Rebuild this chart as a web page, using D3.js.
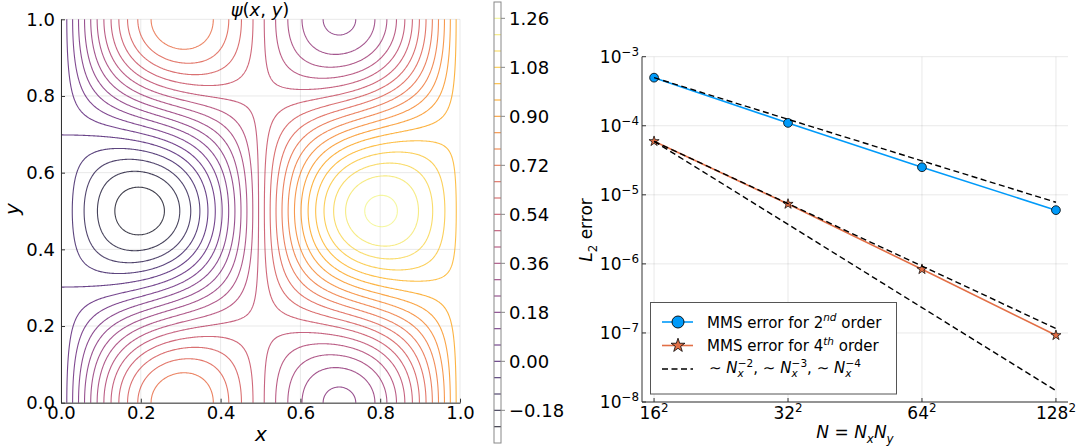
<!DOCTYPE html>
<html>
<head>
<meta charset="utf-8">
<script src="https://cdn.jsdelivr.net/npm/d3@7"></script>
<style>
  body { margin: 0; background: #fff; }
  svg text { font-family: "DejaVu Sans", sans-serif; fill: #000; }
</style>
</head>
<body>
<svg id="chart" width="1083" height="448"></svg>
<script>
// ---- left panel: psi(x,y) = x + A sin(2 pi x) cos(2 pi y)
const psiAmp = 0.5
const psiLevels = [-0.24, -0.18, -0.12, -0.06, 0.00, 0.06, 0.12, 0.18, 0.24, 0.30, 0.36, 0.42,
    0.48, 0.54, 0.60, 0.66, 0.72, 0.78, 0.84, 0.90, 0.96, 1.02, 1.08, 1.14, 1.20, 1.26]
const psiTicks = [-0.18, 0.00, 0.18, 0.36, 0.54, 0.72, 0.90, 1.08, 1.26]
const psiLimits = [-0.30, 1.32]
const unitTicks = [0.0, 0.2, 0.4, 0.6, 0.8, 1.0]

// ---- right panel: convergence
const gridNx = [16, 32, 64, 128]
const err2nd = [4.97e-4, 1.10e-4, 2.51e-5, 6.0e-6]
const err4th = [5.96e-5, 7.36e-6, 8.34e-7, 9.24e-8]
const refN2 = [4.97e-4, 1.24e-4, 3.1e-5, 7.8e-6]
const refN3 = [5.96e-5, 7.45e-6, 9.3e-7, 1.16e-7]
const refN4 = [5.96e-5, 3.73e-6, 2.33e-7, 1.46e-8]
const decades = [1e-8, 1e-7, 1e-6, 1e-5, 1e-4, 1e-3]

const svg = d3.select('#chart')
const axisColor = '#333'
const gridColor = 'rgba(0,0,0,0.09)'
const minus = s => s.replace('-', '\u2212')

// rich text helper: parts = [{t, it, sub, sup, dx}]
function richText(sel, x, y, parts, size, anchor) {
    const t = sel.append('text')
        .attr('x', x).attr('y', y)
        .attr('font-size', size)
        .attr('text-anchor', anchor || 'start')
    let shift = 0
    parts.forEach(p => {
        const target = p.sup ? -0.42 * size : p.sub ? 0.28 * size : 0
        const ts = t.append('tspan').text(p.t).attr('dy', target - shift)
        shift = target
        if (p.sup || p.sub) ts.attr('font-size', size * 0.7)
        if (p.it) ts.attr('font-style', 'italic')
        if (p.dx) ts.attr('dx', p.dx)
    })
    return t
}

// ================= left: contour =================
const xS = d3.scaleLinear().domain([0, 1]).range([61, 460])
const yS = d3.scaleLinear().domain([0, 1]).range([402.7, 19.3])

const gL = svg.append('g').attr('class', 'g_left')

// grid
gL.append('g').selectAll('line.gx').data(unitTicks).join('line')
    .attr('x1', d => xS(d)).attr('x2', d => xS(d))
    .attr('y1', yS(0)).attr('y2', yS(1))
    .attr('stroke', gridColor).attr('stroke-width', 1)
gL.append('g').selectAll('line.gy').data(unitTicks).join('line')
    .attr('y1', d => yS(d)).attr('y2', d => yS(d))
    .attr('x1', xS(0)).attr('x2', xS(1))
    .attr('stroke', gridColor).attr('stroke-width', 1)

// field on a grid a bit larger than the unit square, clipped afterwards
const nGrid = 420
const lo = -0.02, hi = 1.02
const step = (hi - lo) / (nGrid - 1)
const psi = (x, y) => x + psiAmp * Math.sin(2 * Math.PI * x) * Math.cos(2 * Math.PI * y)
const field = new Float64Array(nGrid * nGrid)
for (let j = 0; j < nGrid; j++) {
    for (let i = 0; i < nGrid; i++) {
        field[j * nGrid + i] = psi(lo + i * step, lo + j * step)
    }
}
const contours = d3.contours().size([nGrid, nGrid]).thresholds(psiLevels)(field)

const gxS = d3.scaleLinear().domain([0.5, nGrid - 0.5]).range([xS(lo), xS(hi)])
const gyS = d3.scaleLinear().domain([0.5, nGrid - 0.5]).range([yS(lo), yS(hi)])
const proj = d3.geoTransform({
    point: function (px, py) { this.stream.point(gxS(px), gyS(py)) }
})
const cColor = d3.scaleSequential(d3.interpolateInferno).domain(psiLimits)
const lineAlpha = 0.76

svg.append('defs').append('clipPath').attr('id', 'clipL')
    .append('rect')
    .attr('x', xS(0)).attr('y', yS(1))
    .attr('width', xS(1) - xS(0)).attr('height', yS(0) - yS(1))

gL.append('g').attr('clip-path', 'url(#clipL)')
    .selectAll('path').data(contours).join('path')
    .attr('d', d3.geoPath(proj))
    .attr('fill', 'none')
    .attr('stroke', d => cColor(d.value))
    .attr('stroke-opacity', lineAlpha)
    .attr('stroke-width', 1.1)

// axes
const axL = gL.append('g').attr('transform', `translate(${xS(0)},0)`)
    .call(d3.axisLeft(yS).tickValues(unitTicks).tickFormat(d3.format('.1f'))
        .tickSizeInner(-4).tickSizeOuter(0).tickPadding(6))
const axB = gL.append('g').attr('transform', `translate(0,${yS(0)})`)
    .call(d3.axisBottom(xS).tickValues(unitTicks).tickFormat(d3.format('.1f'))
        .tickSizeInner(-4).tickSizeOuter(0).tickPadding(4))
;[axL, axB].forEach(a => {
    a.select('.domain').attr('stroke', axisColor)
    a.selectAll('.tick line').attr('stroke', axisColor)
    a.selectAll('.tick text').attr('font-size', 18).attr('fill', '#000')
        .style('font-family', '"DejaVu Sans", sans-serif')
})

richText(gL, 260, 16, [{ t: 'ψ', it: true }, { t: '(' }, { t: 'x', it: true }, { t: ', ' }, { t: 'y', it: true }, { t: ')' }], 18, 'middle')
richText(gL, 261, 441, [{ t: 'x', it: true }], 20, 'middle')
richText(gL, 0, 0, [{ t: 'y', it: true }], 20, 'middle')
    .attr('transform', 'translate(19,209) rotate(-90)')

// colorbar
const cbS = d3.scaleLinear().domain(psiLimits).range([443, 2])
const cbX = 494, cbW = 7
const gCb = svg.append('g').attr('class', 'g_colorbar')
gCb.selectAll('line.lev').data(psiLevels).join('line')
    .attr('x1', cbX).attr('x2', cbX + cbW)
    .attr('y1', d => cbS(d)).attr('y2', d => cbS(d))
    .attr('stroke', d => cColor(d)).attr('stroke-opacity', lineAlpha).attr('stroke-width', 1.2)
gCb.append('rect')
    .attr('x', cbX).attr('y', cbS(psiLimits[1]))
    .attr('width', cbW).attr('height', cbS(psiLimits[0]) - cbS(psiLimits[1]))
    .attr('fill', 'none').attr('stroke', '#888').attr('stroke-width', 1)
gCb.selectAll('line.tk').data(psiTicks).join('line')
    .attr('x1', cbX + cbW).attr('x2', cbX + cbW + 4)
    .attr('y1', d => cbS(d)).attr('y2', d => cbS(d))
    .attr('stroke', '#888')
gCb.selectAll('text').data(psiTicks).join('text')
    .attr('x', cbX + cbW + 8).attr('y', d => cbS(d)).attr('dy', '0.36em')
    .attr('font-size', 18)
    .text(d => minus(d3.format('.2f')(d)))

// ================= right: convergence =================
const xR = d3.scaleLog().base(2).domain([Math.pow(2, 7.82), Math.pow(2, 14.18)]).range([642, 1068])
const yR = d3.scaleLog().domain([1e-8, 1e-3]).range([402, 56.7])
const nPts = gridNx.map(n => n * n)
const gR = svg.append('g').attr('class', 'g_right')

gR.append('g').selectAll('line').data(nPts).join('line')
    .attr('x1', d => xR(d)).attr('x2', d => xR(d))
    .attr('y1', yR(1e-8)).attr('y2', yR(1e-3))
    .attr('stroke', gridColor)
gR.append('g').selectAll('line').data(decades).join('line')
    .attr('y1', d => yR(d)).attr('y2', d => yR(d))
    .attr('x1', xR.range()[0]).attr('x2', xR.range()[1])
    .attr('stroke', gridColor)

const line = d3.line().x((d, i) => xR(nPts[i])).y(d => yR(d))
const blue = '#009af9', orange = '#e26f46'

gR.append('path').datum(err2nd).attr('d', line)
    .attr('fill', 'none').attr('stroke', blue).attr('stroke-width', 1.6)
gR.selectAll('circle.p2').data(err2nd).join('circle')
    .attr('cx', (d, i) => xR(nPts[i])).attr('cy', d => yR(d)).attr('r', 4.4)
    .attr('fill', blue).attr('stroke', '#000').attr('stroke-width', 0.8)

gR.append('path').datum(err4th).attr('d', line)
    .attr('fill', 'none').attr('stroke', orange).attr('stroke-width', 1.6)
const star = d3.symbol().type(d3.symbolStar)
gR.selectAll('path.p4').data(err4th).join('path')
    .attr('transform', (d, i) => `translate(${xR(nPts[i])},${yR(d)})`)
    .attr('d', star.size(32))
    .attr('fill', orange).attr('stroke', '#000').attr('stroke-width', 0.7)

;[refN2, refN3, refN4].forEach(r => {
    gR.append('path').datum(r).attr('d', line)
        .attr('fill', 'none').attr('stroke', '#000').attr('stroke-width', 1.4)
        .attr('stroke-dasharray', '6,3.5')
})

// axes
gR.append('line').attr('x1', 642).attr('x2', 642).attr('y1', yR(1e-3)).attr('y2', yR(1e-8)).attr('stroke', axisColor)
gR.append('line').attr('x1', 642).attr('x2', 1068).attr('y1', yR(1e-8)).attr('y2', yR(1e-8)).attr('stroke', axisColor)
gR.selectAll('line.xt').data(nPts).join('line')
    .attr('x1', d => xR(d)).attr('x2', d => xR(d)).attr('y1', 402).attr('y2', 398).attr('stroke', axisColor)
gR.selectAll('line.yt').data(decades).join('line')
    .attr('y1', d => yR(d)).attr('y2', d => yR(d)).attr('x1', 642).attr('x2', 646).attr('stroke', axisColor)

decades.forEach(d => {
    const e = Math.round(Math.log10(d))
    richText(gR, 639, yR(d) + 6, [{ t: '10' }, { t: minus(String(e)), sup: true }], 17, 'end')
})
gridNx.forEach((n, i) => {
    richText(gR, xR(nPts[i]), 419, [{ t: String(n) }, { t: '2', sup: true }], 17, 'middle')
})

richText(gR, 855, 438, [{ t: 'N', it: true }, { t: ' = ' }, { t: 'N', it: true }, { t: 'x', it: true, sub: true },
    { t: 'N', it: true }, { t: 'y', it: true, sub: true }], 17, 'middle')
richText(gR, 0, 0, [{ t: 'L', it: true }, { t: '2', sub: true }, { t: ' error' }], 17, 'middle')
    .attr('transform', 'translate(592,230) rotate(-90)')

// legend
const lg = gR.append('g').attr('class', 'legend')
lg.append('rect').attr('x', 650.5).attr('y', 302.5).attr('width', 246).attr('height', 91.5)
    .attr('fill', '#fff').attr('stroke', '#555').attr('stroke-width', 1)
const rows = [322, 345.5, 370]
lg.append('line').attr('x1', 662).attr('x2', 693).attr('y1', rows[0]).attr('y2', rows[0])
    .attr('stroke', blue).attr('stroke-width', 1.6)
lg.append('circle').attr('cx', 678).attr('cy', rows[0]).attr('r', 6)
    .attr('fill', blue).attr('stroke', '#000').attr('stroke-width', 0.9)
lg.append('line').attr('x1', 662).attr('x2', 693).attr('y1', rows[1]).attr('y2', rows[1])
    .attr('stroke', orange).attr('stroke-width', 1.6)
lg.append('path').attr('transform', `translate(678,${rows[1]})`).attr('d', star.size(60))
    .attr('fill', orange).attr('stroke', '#000').attr('stroke-width', 0.8)
lg.append('line').attr('x1', 662).attr('x2', 693).attr('y1', rows[2] - 1).attr('y2', rows[2] - 1)
    .attr('stroke', '#000').attr('stroke-width', 1.4).attr('stroke-dasharray', '6,3.5')

richText(lg, 707, rows[0] + 5.5, [{ t: 'MMS error for 2' }, { t: 'nd', it: true, sup: true }, { t: ' order' }], 15)
richText(lg, 707, rows[1] + 5.5, [{ t: 'MMS error for 4' }, { t: 'th', it: true, sup: true }, { t: ' order' }], 15)
const refParts = []
;['−2', '−3', '−4'].forEach((p, i) => {
    refParts.push({ t: (i ? ', ' : '') + '∼ ' }, { t: 'N', it: true }, { t: 'x', it: true, sub: true },
        { t: p, sup: true, dx: -6 })
})
richText(lg, 709, rows[2] + 3, refParts, 15)
</script>
</body>
</html>
